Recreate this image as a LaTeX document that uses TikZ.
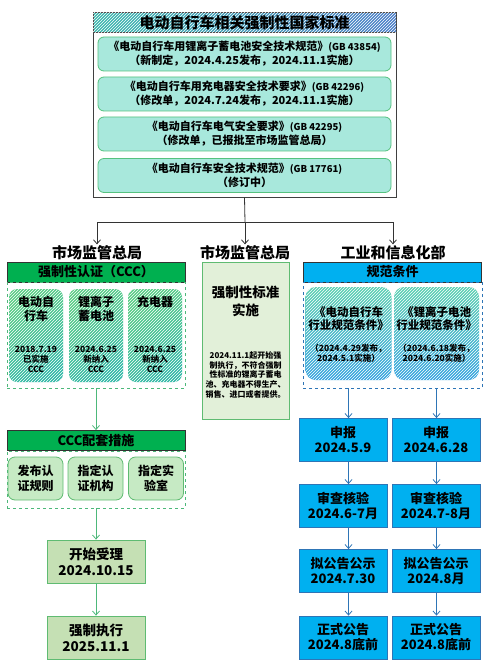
\documentclass[tikz,border=0pt]{standalone}
\usepackage{fontspec}
\setmainfont{Noto Sans CJK SC}
\usetikzlibrary{arrows.meta,patterns}

\newcommand{\fsz}[2]{\fontsize{#1}{#2}\selectfont\bfseries}

\definecolor{stdfill}{HTML}{A8E8DC}
\definecolor{stdline}{HTML}{55C27F}
\definecolor{headA}{HTML}{3DB8AE}
\definecolor{headB}{HTML}{4C7FC9}
\definecolor{cccgreen}{HTML}{00B050}
\definecolor{dashgreen}{HTML}{4DB87A}
\definecolor{gradA}{HTML}{58CC84}
\definecolor{gradB}{HTML}{30B8A6}
\definecolor{paleA}{HTML}{C6EAC4}
\definecolor{paleB}{HTML}{C5E0B4}
\definecolor{paleC}{HTML}{E2F0D9}
\definecolor{boxgreen}{HTML}{5FBB72}
\definecolor{skyblue}{HTML}{00B0F0}
\definecolor{deepblue}{HTML}{2E75B6}
\definecolor{normA}{HTML}{5ED0B2}
\definecolor{normB}{HTML}{36A4E0}

\tikzset{
  hatch/.style={postaction={pattern=north east lines,pattern color=white,fill opacity=0.18}},
  outerbox/.style={draw=black!75,line width=1pt,fill=white,inner sep=0pt},
  titlebar/.style={draw=black!75,line width=1pt,left color=headA,right color=headB,hatch,
    minimum width=303pt,minimum height=20pt,inner sep=0pt,font=\fsz{15}{17}},
  stdbox/.style={draw=stdline,fill=stdfill,rounded corners=6pt,minimum width=293pt,
    minimum height=34pt,align=center,inner sep=0pt,font=\fsz{11}{14}},
  head/.style={inner sep=1pt,font=\fsz{15}{17}},
  band/.style={draw=black!80,minimum width=178pt,minimum height=20pt,inner sep=0pt,font=\fsz{13}{15}},
  group/.style={dashed,minimum width=178pt,inner sep=0pt},
  cccbox/.style={rounded corners=8pt,shading=axis,top color=gradA,bottom color=gradB,
    shading angle=30,hatch,minimum width=54pt,minimum height=93pt,inner sep=0pt},
  normbox/.style={rounded corners=10pt,shading=axis,top color=normA,bottom color=normB,
    hatch,minimum width=86pt,minimum height=93pt,inner sep=0pt},
  boxname/.style={align=center,inner sep=0pt,font=\fsz{12}{14}},
  boxnote/.style={align=center,inner sep=0pt,font=\fsz{8.5}{10}},
  measbox/.style={draw=boxgreen,fill=paleA,rounded corners=7pt,minimum width=55pt,
    minimum height=43pt,align=center,inner sep=0pt,font=\fsz{12}{15}},
  stepbox/.style={draw=boxgreen,fill=paleB,minimum width=98pt,minimum height=43pt,
    align=center,inner sep=0pt,font=\fsz{13.5}{16}},
  flowbox/.style={draw=deepblue,fill=skyblue,minimum width=88pt,minimum height=43pt,
    align=center,inner sep=0pt,font=\fsz{13}{15}}
}

\begin{document}
\begin{tikzpicture}[x=1pt,y=-1pt,>={Straight Barb[length=4pt,width=7pt]},thick]
	\useasboundingbox (0,0) rectangle (492,671);

	%STANDARDS
	\node[outerbox,minimum width=303pt,minimum height=184pt] (Standards) at (244.5,105) {};
	\node[titlebar] (StdTitle) at (244.5,23) {电动自行车相关强制性国家标准};
	\node[stdbox] (GBbattery) at (244.5,54) {《电动自行车用锂离子蓄电池安全技术规范》{\fsz{9.5}{14}(GB 43854)}\\（新制定，2024.4.25发布，2024.11.1实施）};
	\node[stdbox] (GBcharger) at (244.5,94) {《电动自行车用充电器安全技术要求》{\fsz{9.5}{14}(GB 42296)}\\（修改单，2024.7.24发布，2024.11.1实施）};
	\node[stdbox] (GBelectric) at (244.5,134) {《电动自行车电气安全要求》{\fsz{9.5}{14}(GB 42295)}\\（修改单，已报批至市场监管总局）};
	\node[stdbox] (GBebike) at (244.5,175.5) {《电动自行车安全技术规范》{\fsz{9.5}{14}(GB 17761)}\\（修订中）};

	%HEADINGS
	\node[head] (SamrL) at (97,253) {市场监管总局};
	\node[head] (SamrM) at (245,253) {市场监管总局};
	\node[head] (Miit) at (393,253) {工业和信息化部};

	\coordinate (Fork) at (245,222);
	\draw[black!80] (Standards.south) -- (Fork);
	\foreach \w in {SamrL,SamrM,Miit} \draw[->,black!80] (Fork) -| (\w.north);

	%CCC
	\node[band,fill=cccgreen] (CccTitle) at (96,272) {强制性认证（CCC）};
	\node[group,draw=dashgreen,minimum height=106pt] (CccGroup) at (96,335) {};
	\foreach \x/\nm/\title/\date/\state in {36/Ebike/{电动自\\行车}/2018.7.19/已实施,96/Battery/{锂离子\\蓄电池}/2024.6.25/新纳入,155/Charger/充电器/2024.6.25/新纳入}{
		\node[cccbox] (\nm) at (\x,335.5) {};
		\node[boxname,anchor=north] (\nm-name) at (\x,296) {\title};
		\node[boxnote] (\nm-note) at (\x,359) {\date\\\state\\CCC};
	}

	\node[band,fill=cccgreen] (MeasTitle) at (96,440.5) {CCC配套措施};
	\node[group,draw=dashgreen,minimum height=57pt] (MeasGroup) at (96,479.5) {};
	\node[measbox] (Rules) at (35.5,478.5) {发布认\\证规则};
	\node[measbox] (Bodies) at (95.5,478.5) {指定认\\证机构};
	\node[measbox] (Labs) at (156,478.5) {指定实\\验室};

	\node[stepbox] (Accept) at (96,561.5) {开始受理\\2024.10.15};
	\node[stepbox] (Enforce) at (96,637.5) {强制执行\\2025.11.1};

	\draw[->,dashgreen] (CccGroup.south) -- (MeasTitle.north);
	\draw[->,dashgreen] (MeasGroup.south) -- (Accept.north);
	\draw[->,dashgreen] (Accept.south) -- (Enforce.north);

	%MANDATORY STANDARD
	\node[draw=boxgreen,fill=paleC,minimum width=87pt,minimum height=157pt,inner sep=0pt] (SamrBox) at (245.5,340.5) {};
	\node[align=center,inner sep=0pt,font=\fsz{13.5}{18}] (SamrName) at (245.5,301) {强制性标准\\实施};
	\node[align=center,inner sep=0pt,font=\fsz{8}{9.8}] (SamrNote) at (245.5,375) {2024.11.1起开始强\\制执行，不符合强制\\性标准的锂离子蓄电\\池、充电器不得生产、\\销售、进口或者提供。};

	%NORMS
	\node[band,fill=skyblue] (NormTitle) at (392.5,272) {规范条件};
	\node[group,draw=deepblue,minimum width=179pt,minimum height=106pt] (NormGroup) at (392.5,335) {};
	\node[normbox] (EbikeNorm) at (348.5,333.5) {};
	\node[normbox,minimum width=85pt] (BatteryNorm) at (436.5,333.5) {};
	\node[boxname,font=\fsz{11.5}{13.5}] (EbikeNorm-name) at (348.5,318.5) {《电动自行车\\行业规范条件》};
	\node[boxname,font=\fsz{11.5}{13.5}] (BatteryNorm-name) at (436.5,318.5) {《锂离子电池\\行业规范条件》};
	\node[boxnote] (EbikeNorm-note) at (348.5,353) {（2024.4.29发布，\\2024.5.1实施）};
	\node[boxnote] (BatteryNorm-note) at (436.5,353) {（2024.6.18发布，\\2024.6.20实施）};

	\foreach \y/\i/\a/\b in {440/1/{申报\\2024.5.9}/{申报\\2024.6.28},506/2/{审查核验\\2024.6-7月}/{审查核验\\2024.7-8月},571/3/{拟公告公示\\2024.7.30}/{拟公告公示\\2024.8月},637.5/4/{正式公告\\2024.8底前}/{正式公告\\2024.8底前}}{
		\node[flowbox] (EbikeStep\i) at (343,\y) {\a};
		\node[flowbox] (BatteryStep\i) at (436,\y) {\b};
	}

	\draw[->,deepblue] (EbikeNorm |- NormGroup.south) -- (EbikeNorm |- EbikeStep1.north);
	\draw[->,deepblue] (BatteryNorm |- NormGroup.south) -- (BatteryNorm |- BatteryStep1.north);
	\foreach \i/\j in {1/2,2/3,3/4} {
		\draw[->,deepblue] (EbikeNorm |- EbikeStep\i.south) -- (EbikeNorm |- EbikeStep\j.north);
		\draw[->,deepblue] (BatteryNorm |- BatteryStep\i.south) -- (BatteryNorm |- BatteryStep\j.north);
	}
\end{tikzpicture}
\end{document}
